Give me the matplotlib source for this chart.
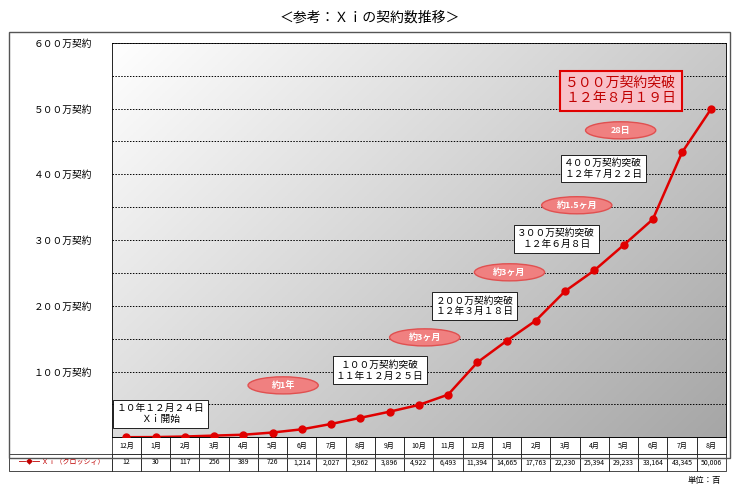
import numpy as np
import matplotlib.pyplot as plt
from matplotlib.patches import Ellipse, Rectangle

plt.rcParams['font.family'] = 'Noto Sans CJK JP'

months = ['12月', '1月', '2月', '3月', '4月', '5月', '6月', '7月', '8月', '9月', '10月',
          '11月', '12月', '1月', '2月', '3月', '4月', '5月', '6月', '7月', '8月']
values = [12, 30, 117, 256, 389, 726, 1214, 2027, 2962, 3896, 4922,
          6493, 11394, 14665, 17763, 22230, 25394, 29233, 33164, 43345, 50006]  # 単位：百
value_labels = ['12', '30', '117', '256', '389', '726', '1,214', '2,027', '2,962', '3,896', '4,922',
                '6,493', '11,394', '14,665', '17,763', '22,230', '25,394', '29,233', '33,164', '43,345', '50,006']
ytick_vals = [100, 200, 300, 400, 500, 600]
ytick_labels = ['１００万契約', '２００万契約', '３００万契約', '４００万契約', '５００万契約', '６００万契約']

y = np.array(values) / 100.0
x = np.arange(len(months))

fig = plt.figure(figsize=(7.4, 4.93), dpi=100)
fig.patches.append(Rectangle((0.012, 0.07), 0.975, 0.865, transform=fig.transFigure,
                             fill=False, edgecolor='#555555', linewidth=1))
ax = fig.add_axes([0.151, 0.113, 0.83, 0.80])
ax.set_xlim(-0.5, len(months) - 0.5)
ax.set_ylim(0, 600)

# light grey gradient: white top-left, grey bottom-right
xf = np.linspace(0, 1, 256).reshape(1, -1)
yf = np.linspace(0, 1, 256).reshape(-1, 1)
shade = 1.0 - 0.35 * (0.6 * xf + 0.4 * (1 - yf))
rgb = np.dstack([shade, shade, shade])
ax.imshow(rgb, extent=(-0.5, len(months) - 0.5, 0, 600), aspect='auto', origin='lower', zorder=0)

for g in np.arange(50, 601, 50):
    ax.axhline(g, color='black', linestyle=(0, (1.5, 1.5)), linewidth=0.7, zorder=1)

ax.plot(x, y, color='#e00000', linewidth=1.8, marker='o', markersize=5, zorder=3)

ax.set_yticks(ytick_vals)
ax.set_yticklabels(ytick_labels, fontsize=7)
ax.set_xticks([])
ax.tick_params(axis='y', length=0, pad=14)
for s in ax.spines.values():
    s.set_linewidth(0.6)

fig.text(0.5, 0.965, '＜参考：Ｘｉの契約数推移＞', ha='center', va='center', fontsize=10)

# annotations
def box(xp, yp, txt, fs=7):
    ax.text(xp, yp, txt, ha='center', va='center', fontsize=fs, zorder=5, linespacing=1.1,
            bbox=dict(facecolor='white', edgecolor='black', linewidth=0.6, pad=2.5))

def oval(xp, yp, txt):
    ax.add_patch(Ellipse((xp, yp), 2.4, 26, facecolor='#f08080', edgecolor='#e05050', zorder=4))
    ax.text(xp, yp, txt, ha='center', va='center', fontsize=6.5, color='white',
            fontweight='bold', zorder=5)

box(1.16, 36, '１０年１２月２４日\nＸｉ開始')
oval(5.36, 79, '約1年')
box(8.67, 102, '１００万契約突破\n１１年１２月２５日')
oval(10.2, 152, '約3ヶ月')
box(11.9, 200, '２００万契約突破\n１２年３月１８日')
oval(13.1, 251, '約3ヶ月')
box(14.7, 302, '３００万契約突破\n１２年６月８日')
oval(15.4, 353, '約1.5ヶ月')
box(16.3, 409, '４００万契約突破\n１２年７月２２日')
oval(16.9, 467, '28日')
ax.text(16.9, 527, '５００万契約突破\n１２年８月１９日', ha='center', va='center', fontsize=10,
        color='#c00000', zorder=5, linespacing=1.1,
        bbox=dict(facecolor='#f8c0c8', edgecolor='#e00000', linewidth=1.5, pad=4))

# data table
tab = ax.table(cellText=[months, value_labels], rowLabels=['', '━◆━ Ｘｉ（クロッシィ）'],
               cellLoc='center', bbox=[0, -0.085, 1, 0.085])
tab.auto_set_font_size(False)
for (r, c), cell in tab.get_celld().items():
    cell.set_fontsize(5)
    cell.set_linewidth(0.5)
    if c == -1:
        cell.set_edgecolor('white' if r == 0 else 'black')
        cell.get_text().set_color('#c00000')

fig.text(0.975, 0.025, '単位：百', ha='right', va='center', fontsize=6)

fig.savefig('out.png', dpi=100)
